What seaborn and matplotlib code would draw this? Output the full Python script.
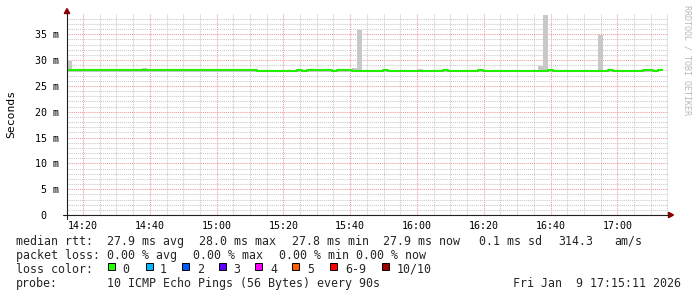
import numpy as np
import pandas as pd
import matplotlib
matplotlib.use("Agg")
import matplotlib.pyplot as plt
from matplotlib.lines import Line2D
from matplotlib.patches import Polygon, Rectangle
import seaborn as sns

# ---------------- data ----------------
start_min = 15 + 11 / 60.0      # 14:15:11 expressed as minutes after 14:00
step_min = 1.5                  # 90 s steps

median_ms = [
    28.0, 28.0, 28.0, 28.0, 28.0, 28.0, 28.0, 28.0, 28.0, 28.0,
    28.0, 28.0, 28.0, 28.0, 28.0, 28.0, 28.0, 28.0, 28.0, 28.0,
    28.0, 28.0, 28.0, 28.0, 28.0, 28.0, 28.0, 28.0, 28.0, 28.0,
    28.0, 28.0, 28.0, 28.0, 28.0, 28.0, 28.0, 28.0, 27.9, 27.9,
    27.8, 27.8, 27.8, 27.8, 27.8, 27.8, 28.0, 27.8, 28.0, 28.0,
    28.0, 28.0, 28.0, 27.8, 28.0, 28.0, 28.0, 27.8, 27.8, 27.8,
    27.8, 27.8, 27.8, 28.0, 27.8, 27.8, 27.8, 27.8, 27.8, 27.8,
    27.8, 27.8, 27.8, 27.8, 27.8, 28.0, 27.8, 27.8, 27.8, 27.8,
    27.8, 27.8, 28.0, 27.8, 27.8, 27.8, 27.8, 27.8, 27.8, 27.8,
    27.8, 27.8, 27.8, 27.8, 27.8, 27.8, 28.0, 27.8, 27.8, 27.8,
    27.8, 27.8, 27.8, 27.8, 27.8, 27.8, 27.8, 27.8, 28.0, 27.8,
    27.8, 27.8, 27.8, 27.8, 27.8, 28.0, 28.0, 27.8, 28.0, np.nan,
]

smoke_hi = [
    29.8, 28.0, 28.0, 28.0, 28.0, 28.0, 28.0, 28.0, 28.0, 28.0,
    28.0, 28.0, 28.0, 28.0, 28.0, 28.5, 28.0, 28.0, 28.0, 28.0,
    28.0, 28.0, 28.0, 28.0, 28.0, 28.0, 28.0, 28.0, 28.0, 28.0,
    28.0, 28.0, 28.0, 28.3, 28.0, 28.0, 28.0, 28.0, 27.9, 27.9,
    27.8, 27.8, 27.8, 27.8, 27.8, 27.8, 28.0, 27.8, 28.0, 28.0,
    28.0, 28.0, 28.0, 27.8, 28.0, 28.0, 28.0, 28.5, 35.85, 27.8,
    27.8, 27.8, 27.8, 28.0, 27.8, 27.8, 27.8, 27.8, 27.8, 27.8,
    28.3, 27.8, 27.8, 27.8, 27.8, 28.0, 27.8, 27.8, 27.8, 27.8,
    27.8, 27.8, 28.0, 27.8, 27.8, 27.8, 27.8, 27.8, 27.8, 27.8,
    27.8, 27.8, 27.8, 27.8, 28.9, 38.75, 28.1, 28.1, 27.8, 27.8,
    27.8, 27.8, 27.8, 27.8, 27.8, 27.8, 34.9, 27.8, 28.0, 27.8,
    27.8, 27.8, 27.8, 27.8, 27.8, 28.0, 28.0, 27.8, 28.0, np.nan,
]

smoke_lo = [
    27.7, 27.7, 27.7, 27.7, 27.7, 27.7, 27.7, 27.7, 27.7, 27.7,
    27.7, 27.7, 27.7, 27.7, 27.7, 27.7, 27.7, 27.7, 27.7, 27.7,
    27.7, 27.7, 27.7, 27.7, 27.7, 27.7, 27.7, 27.7, 27.7, 27.7,
    27.7, 27.7, 27.7, 27.7, 27.7, 27.7, 27.7, 27.7, 27.7, 27.7,
    27.7, 27.7, 27.7, 27.7, 27.7, 27.7, 27.7, 27.7, 27.7, 27.7,
    27.7, 27.7, 27.7, 27.7, 27.7, 27.7, 27.7, 27.7, 27.7, 27.7,
    27.7, 27.7, 27.7, 27.7, 27.7, 27.7, 27.7, 27.7, 27.7, 27.7,
    27.7, 27.7, 27.7, 27.7, 27.7, 27.7, 27.7, 27.7, 27.7, 27.7,
    27.7, 27.7, 27.7, 27.7, 27.7, 27.7, 27.7, 27.7, 27.7, 27.7,
    27.7, 27.7, 27.7, 27.7, 27.7, 27.7, 27.7, 27.7, 27.7, 27.7,
    27.7, 27.7, 27.7, 27.7, 27.7, 27.7, 27.7, 27.7, 27.7, 27.7,
    27.7, 27.7, 27.7, 27.7, 27.7, 27.7, 27.7, 27.7, 27.7, np.nan,
]

xtick_minutes = [20, 40, 60, 80, 100, 120, 140, 160, 180]
xtick_labels = ["14:20", "14:40", "15:00", "15:20", "15:40",
                "16:00", "16:20", "16:40", "17:00"]
ytick_values = [0, 5, 10, 15, 20, 25, 30, 35]
ytick_labels = ["0  ", "5 m", "10 m", "15 m", "20 m", "25 m", "30 m", "35 m"]

stats_rtt = ["median rtt:", "27.9 ms avg", "28.0 ms max", "27.8 ms min",
             "27.9 ms now", "0.1 ms sd", "314.3", "am/s"]
stats_loss = ["packet loss:", "0.00 % avg", "0.00 % max", "0.00 % min",
              "0.00 % now"]
loss_labels = ["0", "1", "2", "3", "4", "5", "6-9", "10/10"]
loss_colors = ["#26ff00", "#00b8ff", "#0059ff", "#5e00ff",
               "#ff00ff", "#ff5e00", "#ff0000", "#a00000"]
probe_text = ["probe:", "10 ICMP Echo Pings (56 Bytes) every 90s",
              "Fri Jan  9 17:15:11 2026"]

# ---------------- figure ----------------
W, H = 697, 297
DPI = 100
sns.set_theme(style="white")
plt.rcParams["font.family"] = ["DejaVu Sans Mono", "DejaVu Sans"]

fig = plt.figure(figsize=(W / DPI, H / DPI), dpi=DPI, facecolor="white")

L, R, T, B = 67, 668, 14, 215
ax = fig.add_axes([L / W, 1 - B / H, (R - L) / W, (B - T) / H])
ax.set_facecolor("white")

n = len(median_ms)
x_start = [start_min + step_min * i for i in range(n)]
x_end_all = start_min + step_min * n
ax.set_xlim(start_min, x_end_all)
ax.set_ylim(0, (B - T) / ((B - 34.3) / 35.0))

# smoke (spread of pings)
xs = np.array(x_start + [x_end_all])
lo = np.array(smoke_lo + [smoke_lo[-1]])
hi = np.array(smoke_hi + [smoke_hi[-1]])
ax.fill_between(xs, lo, hi, step="post", color="#c8c8c8", linewidth=0,
                zorder=2)

# median line
df = pd.DataFrame({"t": x_start, "ms": median_ms}).dropna()
last_t = df["t"].iloc[-1] + step_min
df = pd.concat([df, pd.DataFrame({"t": [last_t], "ms": [df["ms"].iloc[-1]]})],
               ignore_index=True)
sns.lineplot(data=df, x="t", y="ms", ax=ax, color="#20f000",
             drawstyle="steps-post", linewidth=1.5, legend=False,
             solid_capstyle="butt", zorder=3)
ax.set_xlabel("")
ax.set_ylabel("")

# grid
ax.set_xticks(xtick_minutes)
ax.set_xticklabels(xtick_labels)
ax.set_xticks(np.arange(20, x_end_all, 5), minor=True)
ax.set_yticks(ytick_values)
ax.set_yticklabels(ytick_labels)
ax.set_yticks(np.arange(1, 39, 1), minor=True)
ax.set_axisbelow(True)
ax.grid(which="minor", color="#c8c8c8", linestyle=(0, (1, 1)), linewidth=0.75)
ax.grid(which="major", color="#f09a9a", linestyle=(0, (1, 1)), linewidth=0.75)
ax.tick_params(which="both", direction="out", length=3, width=0.7,
               color="#a0a0a0", labelsize=7.2, labelcolor="#000000")
ax.tick_params(axis="x", which="major", pad=1.2)
ax.tick_params(axis="y", which="major", pad=2.6)
for s in ax.spines.values():
    s.set_visible(False)


def fx(px):
    return px / W


def fy(py):
    return 1 - py / H


# axes lines and arrows
fig.add_artist(Line2D([fx(L), fx(L)], [fy(219), fy(13)], color="#202020",
                      linewidth=0.8, transform=fig.transFigure))
fig.add_artist(Line2D([fx(63), fx(668)], [fy(B), fy(B)], color="#202020",
                      linewidth=0.8, transform=fig.transFigure))
fig.add_artist(Polygon([[fx(67), fy(8.5)], [fx(64.3), fy(13.5)], [fx(69.7), fy(13.5)]],
                       closed=True, color="#8b0000", transform=fig.transFigure))
fig.add_artist(Polygon([[fx(673.5), fy(215)], [fx(668.5), fy(212.3)], [fx(668.5), fy(217.7)]],
                       closed=True, color="#8b0000", transform=fig.transFigure))

# y label
fig.text(fx(11), fy(114), "Seconds", rotation=90, ha="center", va="center",
         fontsize=8.2, color="#000000")

# watermark
fig.text(fx(686.5), fy(5), "RRDTOOL / TOBI OETIKER", rotation=270,
         ha="center", va="top", fontsize=6.0, color="#b8b8b8")

# legend rows
FS = 8.4
row1_x = [16, 107.3, 199.3, 292.3, 383.3, 479.3, 558.3, 614]
for txt, px in zip(stats_rtt, row1_x):
    fig.text(fx(px), fy(244.6), txt, ha="left", va="baseline", fontsize=FS)
row2_x = [16, 107.3, 193.3, 279.3, 356]
for txt, px in zip(stats_loss, row2_x):
    fig.text(fx(px), fy(258.6), txt, ha="left", va="baseline", fontsize=FS)

fig.text(fx(16), fy(272.7), "loss color:", ha="left", va="baseline", fontsize=FS)
sq_x = [108.3, 145.7, 182.3, 219, 255, 291.7, 330, 381.7]
lab_x = [122.7, 160, 196.7, 233.3, 270.7, 307.3, 345, 396.7]
for lab, col, sx, lx in zip(loss_labels, loss_colors, sq_x, lab_x):
    fig.add_artist(Rectangle((fx(sx), fy(270.2)), 6.8 / W, 6.8 / H,
                             facecolor=col, edgecolor="#000000", linewidth=0.7,
                             transform=fig.transFigure))
    fig.text(fx(lx), fy(272.7), lab, ha="left", va="baseline", fontsize=FS)

row4_x = [16, 107.3, 513.3]
for txt, px in zip(probe_text, row4_x):
    fig.text(fx(px), fy(286.8), txt, ha="left", va="baseline", fontsize=FS)

fig.savefig("out.png", dpi=DPI, facecolor="white")
